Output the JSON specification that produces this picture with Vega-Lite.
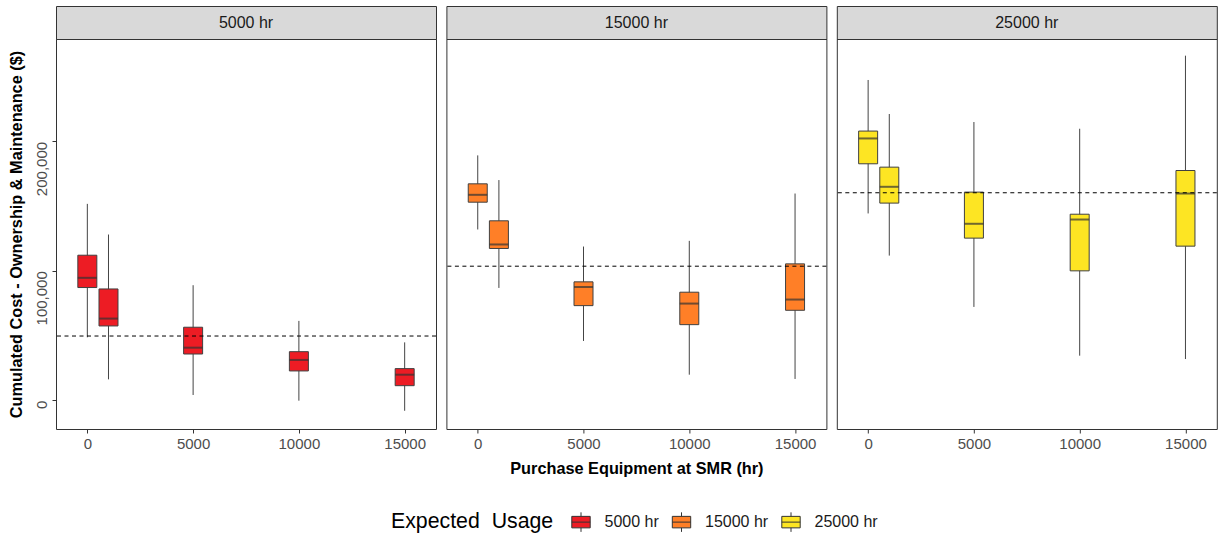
{
  "$schema": "https://vega.github.io/schema/vega-lite/v6.json",
  "padding": {"left": 7, "top": 5, "right": 5, "bottom": 5},
  "background": "white",
  "datasets": {
    "boxes": [
      {"usage": "5000 hr", "smr": 0, "lo": 48500, "q1": 87000, "med": 94500, "q3": 112000, "hi": 151700},
      {"usage": "5000 hr", "smr": 1000, "lo": 16000, "q1": 57300, "med": 63000, "q3": 85900, "hi": 128000},
      {"usage": "5000 hr", "smr": 5000, "lo": 3900, "q1": 35600, "med": 40500, "q3": 56300, "hi": 88800},
      {"usage": "5000 hr", "smr": 10000, "lo": -500, "q1": 22500, "med": 31000, "q3": 37400, "hi": 61200},
      {"usage": "5000 hr", "smr": 15000, "lo": -8300, "q1": 11100, "med": 19600, "q3": 24300, "hi": 44600},
      {"usage": "15000 hr", "smr": 0, "lo": 131900, "q1": 153000, "med": 158700, "q3": 167200, "hi": 189200},
      {"usage": "15000 hr", "smr": 1000, "lo": 86700, "q1": 117200, "med": 120300, "q3": 138600, "hi": 170100},
      {"usage": "15000 hr", "smr": 5000, "lo": 45700, "q1": 73000, "med": 87500, "q3": 91400, "hi": 118700},
      {"usage": "15000 hr", "smr": 10000, "lo": 19600, "q1": 58300, "med": 74600, "q3": 83400, "hi": 123100},
      {"usage": "15000 hr", "smr": 15000, "lo": 16300, "q1": 69400, "med": 77700, "q3": 105300, "hi": 159700},
      {"usage": "25000 hr", "smr": 0, "lo": 144300, "q1": 182700, "med": 202300, "q3": 208000, "hi": 247500},
      {"usage": "25000 hr", "smr": 1000, "lo": 111700, "q1": 152300, "med": 164900, "q3": 180100, "hi": 221200},
      {"usage": "25000 hr", "smr": 5000, "lo": 72000, "q1": 125200, "med": 136300, "q3": 160800, "hi": 215000},
      {"usage": "25000 hr", "smr": 10000, "lo": 34300, "q1": 99900, "med": 139600, "q3": 143700, "hi": 209800},
      {"usage": "25000 hr", "smr": 15000, "lo": 31700, "q1": 119000, "med": 159700, "q3": 177500, "hi": 266300}
    ],
    "refs": [
      {"usage": "5000 hr", "ref": 49500},
      {"usage": "15000 hr", "ref": 103500},
      {"usage": "25000 hr", "ref": 160300}
    ]
  },
  "spacing": 8.4,
  "hconcat": [
    {
      "spacing": 0,
      "bounds": "flush",
      "vconcat": [
        {
          "width": 380, "height": 33,
          "data": {"name": "refs"},
          "transform": [{"filter": "datum.usage === '5000 hr'"}],
          "view": {"fill": "#d9d9d9", "stroke": "#333333", "strokeWidth": 1},
          "mark": {"type": "text", "font": "Liberation Sans", "fontSize": 16, "color": "#1a1a1a"},
          "encoding": {
            "x": {"field": "usage", "type": "nominal", "axis": null},
            "text": {"field": "usage"}
          }
        },
        {
          "width": 380, "height": 390,
          "layer": [
            {
              "data": {"name": "boxes"},
              "transform": [{"filter": "datum.usage === '5000 hr'"}],
              "mark": {"type": "rule", "color": "#444444", "strokeWidth": 1},
              "encoding": {
                "x": {"field": "smr", "type": "quantitative", "scale": {"domain": [-1245, 16245], "nice": false, "zero": false}, "axis": {"values": [0, 5000, 10000, 15000], "format": "d", "title": null}},
                "y": {"field": "lo", "type": "quantitative", "scale": {"domain": [-22400, 279200], "nice": false, "zero": false}, "axis": {"values": [0, 100000, 200000], "format": ",.0f", "title": "Cumulated Cost - Ownership & Maintenance ($)", "titlePadding": 10, "labelAngle": -90, "labelAlign": "right", "labelBaseline": "bottom"}},
                "y2": {"field": "hi"}
              }
            },
            {
              "data": {"name": "boxes"},
              "transform": [{"filter": "datum.usage === '5000 hr'"}],
              "mark": {"type": "bar", "width": 19, "stroke": "#404040", "strokeWidth": 1},
              "encoding": {
                "x": {"field": "smr", "type": "quantitative"},
                "y": {"field": "q1", "type": "quantitative"},
                "y2": {"field": "q3"},
                "color": {"field": "usage", "type": "nominal", "scale": {"domain": ["5000 hr", "15000 hr", "25000 hr"], "range": ["#ED1C24", "#FF7F27", "#FDE523"]}, "legend": {"title": "Expected\u00a0\u00a0Usage"}}
              }
            },
            {
              "data": {"name": "boxes"},
              "transform": [{"filter": "datum.usage === '5000 hr'"}],
              "mark": {"type": "tick", "orient": "horizontal", "size": 19, "thickness": 2, "color": "#333333"},
              "encoding": {
                "x": {"field": "smr", "type": "quantitative"},
                "y": {"field": "med", "type": "quantitative"}
              }
            },
            {
              "data": {"name": "refs"},
              "transform": [{"filter": "datum.usage === '5000 hr'"}],
              "mark": {"type": "rule", "color": "#000000", "strokeWidth": 1, "strokeDash": [4, 3.5]},
              "encoding": {
                "y": {"field": "ref", "type": "quantitative"}
              }
            }
          ]
        }
      ]
    },
    {
      "spacing": 0,
      "bounds": "flush",
      "vconcat": [
        {
          "width": 380, "height": 33,
          "data": {"name": "refs"},
          "transform": [{"filter": "datum.usage === '15000 hr'"}],
          "view": {"fill": "#d9d9d9", "stroke": "#333333", "strokeWidth": 1},
          "mark": {"type": "text", "font": "Liberation Sans", "fontSize": 16, "color": "#1a1a1a"},
          "encoding": {
            "x": {"field": "usage", "type": "nominal", "axis": null},
            "text": {"field": "usage"}
          }
        },
        {
          "width": 380, "height": 390,
          "layer": [
            {
              "data": {"name": "boxes"},
              "transform": [{"filter": "datum.usage === '15000 hr'"}],
              "mark": {"type": "rule", "color": "#444444", "strokeWidth": 1},
              "encoding": {
                "x": {"field": "smr", "type": "quantitative", "scale": {"domain": [-1245, 16245], "nice": false, "zero": false}, "axis": {"values": [0, 5000, 10000, 15000], "format": "d", "title": "Purchase Equipment at SMR (hr)", "titlePadding": 9}},
                "y": {"field": "lo", "type": "quantitative", "scale": {"domain": [-22400, 279200], "nice": false, "zero": false}, "axis": null},
                "y2": {"field": "hi"}
              }
            },
            {
              "data": {"name": "boxes"},
              "transform": [{"filter": "datum.usage === '15000 hr'"}],
              "mark": {"type": "bar", "width": 19, "stroke": "#404040", "strokeWidth": 1},
              "encoding": {
                "x": {"field": "smr", "type": "quantitative"},
                "y": {"field": "q1", "type": "quantitative"},
                "y2": {"field": "q3"},
                "color": {"field": "usage", "type": "nominal"}
              }
            },
            {
              "data": {"name": "boxes"},
              "transform": [{"filter": "datum.usage === '15000 hr'"}],
              "mark": {"type": "tick", "orient": "horizontal", "size": 19, "thickness": 2, "color": "#333333"},
              "encoding": {
                "x": {"field": "smr", "type": "quantitative"},
                "y": {"field": "med", "type": "quantitative"}
              }
            },
            {
              "data": {"name": "refs"},
              "transform": [{"filter": "datum.usage === '15000 hr'"}],
              "mark": {"type": "rule", "color": "#000000", "strokeWidth": 1, "strokeDash": [4, 3.5]},
              "encoding": {
                "y": {"field": "ref", "type": "quantitative"}
              }
            }
          ]
        }
      ]
    },
    {
      "spacing": 0,
      "bounds": "flush",
      "vconcat": [
        {
          "width": 380, "height": 33,
          "data": {"name": "refs"},
          "transform": [{"filter": "datum.usage === '25000 hr'"}],
          "view": {"fill": "#d9d9d9", "stroke": "#333333", "strokeWidth": 1},
          "mark": {"type": "text", "font": "Liberation Sans", "fontSize": 16, "color": "#1a1a1a"},
          "encoding": {
            "x": {"field": "usage", "type": "nominal", "axis": null},
            "text": {"field": "usage"}
          }
        },
        {
          "width": 380, "height": 390,
          "layer": [
            {
              "data": {"name": "boxes"},
              "transform": [{"filter": "datum.usage === '25000 hr'"}],
              "mark": {"type": "rule", "color": "#444444", "strokeWidth": 1},
              "encoding": {
                "x": {"field": "smr", "type": "quantitative", "scale": {"domain": [-1245, 16245], "nice": false, "zero": false}, "axis": {"values": [0, 5000, 10000, 15000], "format": "d", "title": null}},
                "y": {"field": "lo", "type": "quantitative", "scale": {"domain": [-22400, 279200], "nice": false, "zero": false}, "axis": null},
                "y2": {"field": "hi"}
              }
            },
            {
              "data": {"name": "boxes"},
              "transform": [{"filter": "datum.usage === '25000 hr'"}],
              "mark": {"type": "bar", "width": 19, "stroke": "#404040", "strokeWidth": 1},
              "encoding": {
                "x": {"field": "smr", "type": "quantitative"},
                "y": {"field": "q1", "type": "quantitative"},
                "y2": {"field": "q3"},
                "color": {"field": "usage", "type": "nominal"}
              }
            },
            {
              "data": {"name": "boxes"},
              "transform": [{"filter": "datum.usage === '25000 hr'"}],
              "mark": {"type": "tick", "orient": "horizontal", "size": 19, "thickness": 2, "color": "#333333"},
              "encoding": {
                "x": {"field": "smr", "type": "quantitative"},
                "y": {"field": "med", "type": "quantitative"}
              }
            },
            {
              "data": {"name": "refs"},
              "transform": [{"filter": "datum.usage === '25000 hr'"}],
              "mark": {"type": "rule", "color": "#000000", "strokeWidth": 1, "strokeDash": [4, 3.5]},
              "encoding": {
                "y": {"field": "ref", "type": "quantitative"}
              }
            }
          ]
        }
      ]
    }
  ],
  "resolve": {"scale": {"color": "shared"}},
  "config": {
    "font": "Liberation Sans",
    "view": {"stroke": "#333333", "strokeWidth": 1},
    "axis": {
      "grid": false,
      "domain": false,
      "tickColor": "#333333",
      "tickSize": 4,
      "labelColor": "#4d4d4d",
      "labelFont": "Liberation Sans",
      "labelFontSize": 15,
      "labelPadding": 3,
      "titleFont": "Liberation Sans",
      "titleFontSize": 16.3,
      "titleFontWeight": "bold",
      "titleColor": "#000000"
    },
    "legend": {
      "orient": "none",
      "legendX": 335,
      "legendY": 504,
      "direction": "horizontal",
      "titleOrient": "left",
      "titleFontSize": 21.3,
      "titleFontWeight": "normal",
      "titleColor": "#000000",
      "titleFont": "Liberation Sans",
      "titlePadding": 15,
      "labelFont": "Liberation Sans",
      "labelFontSize": 16,
      "labelColor": "#1a1a1a",
      "labelOffset": 11.5,
      "columnPadding": 10.5,
      "symbolSize": 529,
      "symbolType": "M-0.8,-0.5H0.8V0.5H-0.8Z M-0.8,0H0.8 M0,-0.5V-0.85 M0,0.5V0.85",
      "symbolStrokeColor": "#333333",
      "symbolStrokeWidth": 1,
      "symbolOpacity": 1
    }
  }
}
